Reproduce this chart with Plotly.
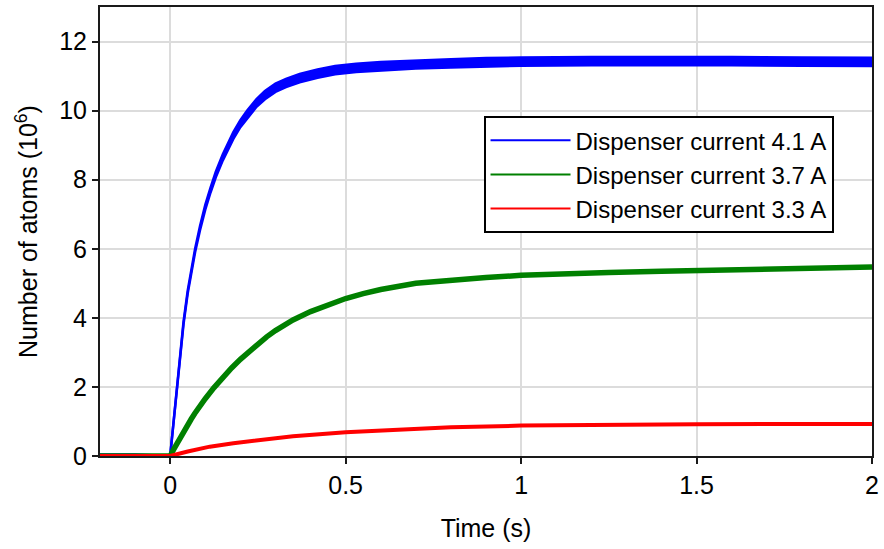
import plotly.graph_objects as go

# ---- data ----
blue_x = [-0.2, -0.1, 0.0, 0.005, 0.01, 0.019, 0.028, 0.038, 0.05, 0.06, 0.071, 0.085, 0.1, 0.115,
          0.13, 0.15, 0.165, 0.18, 0.2, 0.22, 0.246, 0.27, 0.3, 0.33, 0.369, 0.42, 0.47, 0.53,
          0.6, 0.7, 0.8, 0.9, 1.0, 1.2, 1.4, 1.6, 1.8, 2.0]
blue_y = [0.02, 0.02, 0.0, 0.52, 1.04, 2.0, 2.95, 3.85, 4.75, 5.35, 5.95, 6.6, 7.2, 7.7,
          8.15, 8.65, 8.98, 9.28, 9.62, 9.9, 10.22, 10.45, 10.66, 10.8, 10.94, 11.07, 11.17, 11.24,
          11.29, 11.34, 11.37, 11.4, 11.42, 11.43, 11.44, 11.43, 11.42, 11.41]
blue_noise = [0.02, 0.02, 0.0, 0.01, 0.02, 0.03, 0.03, 0.04, 0.04, 0.05, 0.05, 0.06, 0.07, 0.07,
              0.08, 0.09, 0.09, 0.1, 0.1, 0.11, 0.11, 0.12, 0.12, 0.12, 0.12, 0.12, 0.12, 0.12,
              0.12, 0.12, 0.12, 0.12, 0.12, 0.12, 0.12, 0.12, 0.12, 0.12]

green_x = [-0.2, 0.0, 0.01, 0.02, 0.03, 0.04, 0.05, 0.06, 0.07, 0.08, 0.09, 0.1, 0.125, 0.15,
           0.175, 0.2, 0.225, 0.25, 0.275, 0.3, 0.35, 0.4, 0.45, 0.5, 0.55, 0.6, 0.7, 0.8, 0.9,
           1.0, 1.1, 1.25, 1.4, 1.6, 1.8, 2.0]
green_y = [0.0, 0.0, 0.19, 0.38, 0.56, 0.74, 0.91, 1.07, 1.23, 1.38, 1.52, 1.66, 1.98, 2.28,
           2.55, 2.8, 3.03, 3.25, 3.45, 3.63, 3.94, 4.18, 4.38, 4.56, 4.7, 4.82, 5.0, 5.1, 5.17,
           5.23, 5.27, 5.31, 5.35, 5.39, 5.43, 5.47]

red_x = [-0.2, 0.0, 0.05, 0.113, 0.18, 0.255, 0.35, 0.5, 0.65, 0.8, 1.0, 1.25, 1.5, 1.75, 2.0]
red_y = [0.0, 0.0, 0.13, 0.27, 0.37, 0.46, 0.57, 0.69, 0.77, 0.83, 0.88, 0.91, 0.92, 0.93, 0.93]

series_names = ["Dispenser current 4.1 A", "Dispenser current 3.7 A", "Dispenser current 3.3 A"]
series_colors = ["#0000ff", "#008000", "#ff0000"]

x_ticks = [0, 0.5, 1, 1.5, 2]
x_tick_text = ["0", "0.5", "1", "1.5", "2"]
y_ticks = [0, 2, 4, 6, 8, 10, 12]

FONT = "Liberation Sans, Arial, Helvetica, sans-serif"

fig = go.Figure()

blue_lo = [y - n for y, n in zip(blue_y, blue_noise)]
blue_hi = [y + n for y, n in zip(blue_y, blue_noise)]
fig.add_trace(go.Scatter(x=blue_x, y=blue_lo, mode="lines",
                         line=dict(color=series_colors[0], width=2.5),
                         showlegend=False, hoverinfo="skip"))
fig.add_trace(go.Scatter(x=blue_x, y=blue_hi, mode="lines", fill="tonexty",
                         fillcolor=series_colors[0],
                         line=dict(color=series_colors[0], width=2.5),
                         showlegend=False))
fig.add_trace(go.Scatter(x=green_x, y=green_y, mode="lines",
                         line=dict(color=series_colors[1], width=5.5),
                         showlegend=False))
fig.add_trace(go.Scatter(x=red_x, y=red_y, mode="lines",
                         line=dict(color=series_colors[2], width=4),
                         showlegend=False))

for name, col in zip(series_names, series_colors):
    fig.add_trace(go.Scatter(x=[None], y=[None], mode="lines", name=name,
                             line=dict(color=col, width=2)))

axis_common = dict(
    showline=True, linecolor="#1a1a1a", linewidth=2, mirror=True,
    ticks="outside", ticklen=6, tickwidth=2, tickcolor="#1a1a1a",
    showgrid=True, gridcolor="#dcdcdc", gridwidth=2, zeroline=False,
    tickfont=dict(family=FONT, size=25, color="black"),
)

fig.update_layout(
    width=884, height=549,
    margin=dict(l=100, r=9, t=5, b=93),
    paper_bgcolor="white", plot_bgcolor="white",
    font=dict(family=FONT, color="black"),
    xaxis=dict(range=[-0.2, 2], tickvals=x_ticks, ticktext=x_tick_text,
               title=dict(text="Time (s)", font=dict(family=FONT, size=25), standoff=21),
               **axis_common),
    yaxis=dict(range=[0, 13], tickvals=y_ticks,
               title=dict(text="Number of atoms (10<sup>6</sup>)", font=dict(family=FONT, size=25), standoff=14),
               **axis_common),
    legend=dict(x=0.4968, y=0.757, xanchor="left", yanchor="top",
                bgcolor="white", bordercolor="black", borderwidth=2,
                font=dict(family=FONT, size=24, color="black"),
                itemwidth=80, tracegroupgap=0, traceorder="normal"),
)

fig.write_html("out.html")
